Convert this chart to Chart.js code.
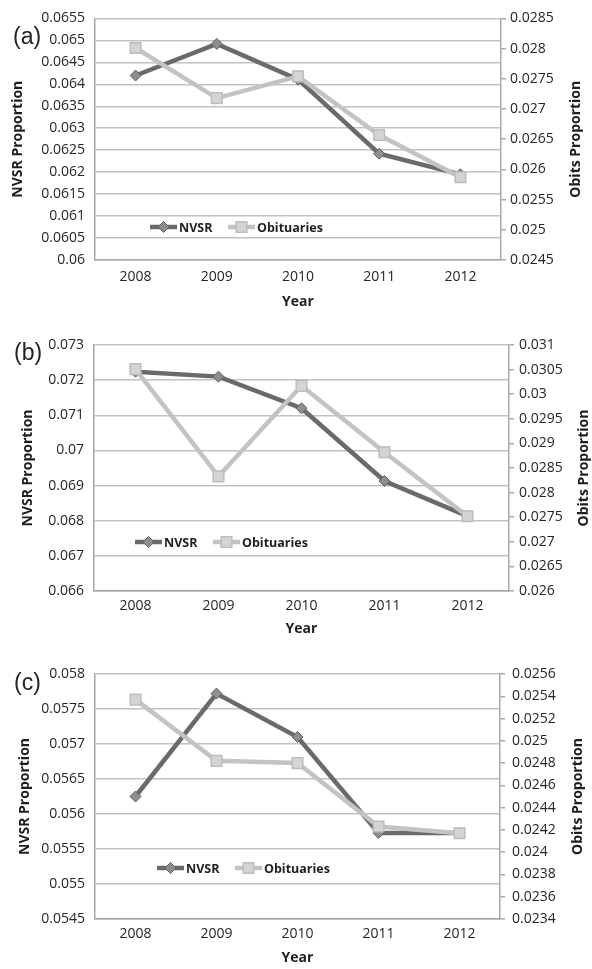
<!DOCTYPE html>
<html>
<head>
<meta charset="utf-8">
<script src="https://cdn.jsdelivr.net/npm/chart.js@4.4.1/dist/chart.umd.min.js"></script>
<style>
  body { margin: 0; background: #fff; width: 592px; height: 969px; position: relative; overflow: hidden; font-family: "Open Sans", sans-serif; }
  .panel { position: absolute; left: 0; width: 592px; }
  .tag { position: absolute; font-family: "Liberation Sans", Arial, sans-serif; font-size: 23px; line-height: 23px; color: #222; }
</style>
</head>
<body>
<div class="panel" style="top:0;height:315px"><canvas id="chartA"></canvas></div>
<div class="panel" style="top:320px;height:320px"><canvas id="chartB"></canvas></div>
<div class="panel" style="top:640px;height:329px"><canvas id="chartC"></canvas></div>
<div class="tag" style="left:13px;top:25px">(a)</div>
<div class="tag" style="left:14px;top:341px">(b)</div>
<div class="tag" style="left:14px;top:671px">(c)</div>

<script>
const years = ["2008", "2009", "2010", "2011", "2012"];

// proportions per year, NVSR on the left axis, obituaries on the right
const nvsrA = [0.0642, 0.06492, 0.06411, 0.06242, 0.06195];
const obitsA = [0.02801, 0.02718, 0.02754, 0.02657, 0.02587];
const nvsrB = [0.07224, 0.0721, 0.0712, 0.06913, 0.06813];
const obitsB = [0.03051, 0.02833, 0.03017, 0.02882, 0.02752];
const nvsrC = [0.05625, 0.05772, 0.0571, 0.05573, 0.05573];
const obitsC = [0.02537, 0.02482, 0.0248, 0.02423, 0.02417];

// axis ranges as [min, max, step]
const leftA = [0.06, 0.0655, 0.0005];
const rightA = [0.0245, 0.0285, 0.0005];
const leftB = [0.066, 0.073, 0.001];
const rightB = [0.026, 0.031, 0.0005];
const leftC = [0.0545, 0.058, 0.0005];
const rightC = [0.0234, 0.0256, 0.0002];

const panels = [
  { id: "chartA", nvsr: nvsrA, obits: obitsA, left: leftA, right: rightA,
    area: { left: 95, right: 501, top: 15, bottom: 260 }, h: 315,
    leftTitlePad: 10, xTitlePad: 5, xTickPad: 1, rightTickPad: 4, rightTitleX: 576, legend: { x: 150, y: 227 } },
  { id: "chartB", nvsr: nvsrB, obits: obitsB, left: leftB, right: rightB,
    area: { left: 94, right: 509, top: 25, bottom: 271 }, h: 320,
    leftTitlePad: 20, xTitlePad: 3, xTickPad: -1, rightTickPad: 5, rightTitleX: 584, legend: { x: 135, y: 222 } },
  { id: "chartC", nvsr: nvsrC, obits: obitsC, left: leftC, right: rightC,
    area: { left: 95, right: 500, top: 34, bottom: 279 }, h: 329,
    leftTitlePad: 17, xTitlePad: 3, xTickPad: -1, rightTickPad: 7, rightTitleX: 578, legend: { x: 157, y: 228 } }
];

const tickFont = { family: "'Open Sans', sans-serif", size: 14 };
const titleFont = { family: "'Open Sans', sans-serif", size: 14, weight: "bold" };
const fmt = v => String(+Number(v).toFixed(6));

// legend drawn inside the plot, plus the right-hand axis title reading upward
const extras = {
  id: "extras",
  afterDatasetsDraw(chart, args, opts) {
    const ctx = chart.ctx;
    ctx.save();
    chart.data.datasets.forEach((ds, i) => {
      const x0 = opts.x + i * 78;
      const y = opts.y;
      ctx.strokeStyle = ds.borderColor;
      ctx.lineWidth = ds.borderWidth;
      ctx.beginPath();
      ctx.moveTo(x0, y);
      ctx.lineTo(x0 + 27, y);
      ctx.stroke();
      ctx.fillStyle = ds.pointBackgroundColor;
      ctx.strokeStyle = ds.pointBorderColor;
      ctx.lineWidth = ds.pointBorderWidth;
      Chart.helpers.drawPoint(ctx, { pointStyle: ds.pointStyle, radius: ds.pointRadius, borderWidth: ds.pointBorderWidth }, x0 + 13.5, y);
      ctx.fillStyle = "#1e1e1e";
      ctx.font = "bold 12.5px 'Open Sans', sans-serif";
      ctx.textBaseline = "middle";
      ctx.textAlign = "left";
      ctx.fillText(ds.label, x0 + 29, y + 1);
    });
    const a = chart.chartArea;
    ctx.translate(opts.titleX, (a.top + a.bottom) / 2);
    ctx.rotate(-Math.PI / 2);
    ctx.textAlign = "center";
    ctx.font = "bold 14px 'Open Sans', sans-serif";
    ctx.fillText("Obits Proportion", 0, 0);
    ctx.restore();
  }
};

panels.forEach(p => {
  new Chart(document.getElementById(p.id), {
    type: "line",
    data: {
      labels: years,
      datasets: [
        {
          label: "NVSR", data: p.nvsr, yAxisID: "y", order: 1,
          borderColor: "#6a6a6a", borderWidth: 4.5,
          pointStyle: "rectRot", pointRadius: 5.5, pointBackgroundColor: "#8e8e8e",
          pointBorderColor: "#5e5e5e", pointBorderWidth: 1
        },
        {
          label: "Obituaries", data: p.obits, yAxisID: "y1", order: 0,
          borderColor: "#c3c3c3", borderWidth: 4.5,
          pointStyle: "rect", pointRadius: 7.5, pointBackgroundColor: "#d4d4d4",
          pointBorderColor: "#bdbdbd", pointBorderWidth: 1.5
        }
      ]
    },
    options: {
      responsive: true,
      maintainAspectRatio: false,
      animation: false,
      layout: { padding: { top: p.area.top, left: 0, right: 0, bottom: 0 } },
      plugins: {
        legend: { display: false },
        tooltip: { enabled: false },
        extras: { x: p.legend.x, y: p.legend.y, titleX: p.rightTitleX }
      },
      scales: {
        x: {
          offset: true,
          grid: { display: false },
          border: { color: "#a8a8a8", width: 1.5 },
          ticks: { font: tickFont, color: "#262626", padding: p.xTickPad },
          title: { display: true, text: "Year", font: titleFont, color: "#1e1e1e", padding: { top: 0, bottom: p.xTitlePad } },
          afterFit: s => { s.height = p.h - p.area.bottom; }
        },
        y: {
          position: "left",
          min: p.left[0], max: p.left[1],
          grid: { color: "#c2c2c2", lineWidth: 1.5, drawTicks: false },
          border: { color: "#a8a8a8", width: 1.5 },
          ticks: { stepSize: p.left[2], font: tickFont, color: "#262626", padding: 10, callback: fmt },
          title: { display: true, text: "NVSR Proportion", font: titleFont, color: "#1e1e1e", padding: { top: p.leftTitlePad, bottom: 0 } },
          afterFit: s => { s.width = p.area.left; }
        },
        y1: {
          position: "right",
          min: p.right[0], max: p.right[1],
          grid: { drawOnChartArea: false, drawTicks: true, tickLength: 5, color: "#a8a8a8", lineWidth: 1.5 },
          border: { color: "#a8a8a8", width: 1.5 },
          ticks: { stepSize: p.right[2], font: tickFont, color: "#262626", padding: p.rightTickPad, callback: fmt },
          afterFit: s => { s.width = 592 - p.area.right; }
        }
      }
    },
    plugins: [extras]
  });
});
</script>
</body>
</html>
